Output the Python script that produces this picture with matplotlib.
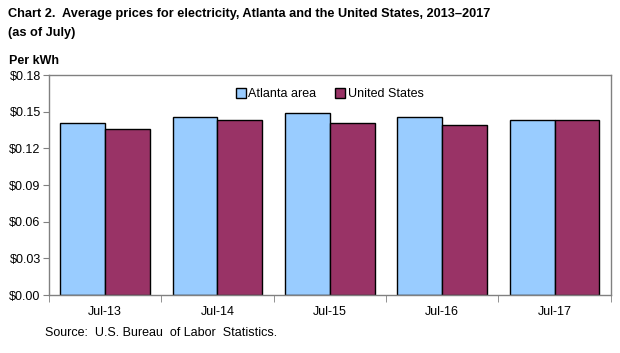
import matplotlib
matplotlib.use("Agg")
from matplotlib import pyplot as plt
import numpy as np

# DATA
categories = ["Jul-13", "Jul-14", "Jul-15", "Jul-16", "Jul-17"]
atlanta = [0.141, 0.146, 0.149, 0.146, 0.143]
united_states = [0.136, 0.143, 0.141, 0.139, 0.143]
y_ticks = [0.00, 0.03, 0.06, 0.09, 0.12, 0.15, 0.18]

plt.rcParams['font.family'] = ['Liberation Sans', 'DejaVu Sans']

fig = plt.figure(figsize=(6.2, 3.53), dpi=100)
ax = fig.add_axes([0.079, 0.164, 0.906, 0.623])

x = np.arange(len(categories))
w = 0.4
ax.bar(x - w / 2, atlanta, w, color="#99ccff", edgecolor="black", linewidth=1, label="Atlanta area")
ax.bar(x + w / 2, united_states, w, color="#993366", edgecolor="black", linewidth=1, label="United States")

ax.set_xlim(-0.5, len(categories) - 0.5)
ax.set_ylim(0, 0.18)
ax.set_yticks(y_ticks)
ax.set_yticklabels(["${:.2f}".format(v) for v in y_ticks], fontsize=9)
ax.set_xticks(x)
ax.set_xticklabels(categories, fontsize=9)
ax.tick_params(axis="x", which="major", length=0, pad=8)
ax.set_xticks(np.arange(len(categories) + 1) - 0.5, minor=True)
ax.tick_params(axis="x", which="minor", length=5, color="#808080")
ax.tick_params(axis="y", length=4, color="#808080", pad=2)

for s in ax.spines.values():
    s.set_color("#808080")
    s.set_linewidth(1)

ax.legend(loc="upper center", bbox_to_anchor=(0.5, 0.98), ncol=2, frameon=False,
          fontsize=9, handlelength=0.8, handleheight=0.8, handletextpad=0.2,
          columnspacing=1.5, borderaxespad=0.3)

fig.text(0.013, 0.96, "Chart 2.  Average prices for electricity, Atlanta and the United States, 2013\u20132017",
         fontsize=9.2, fontweight="bold", va="center")
fig.text(0.013, 0.907, "(as of July)", fontsize=9.2, fontweight="bold", va="center")
fig.text(0.015, 0.828, "Per kWh", fontsize=9, fontweight="bold", va="center")
fig.text(0.073, 0.058, "Source:  U.S. Bureau  of Labor  Statistics.", fontsize=9, va="center")

fig.savefig("out.png", dpi=100)
